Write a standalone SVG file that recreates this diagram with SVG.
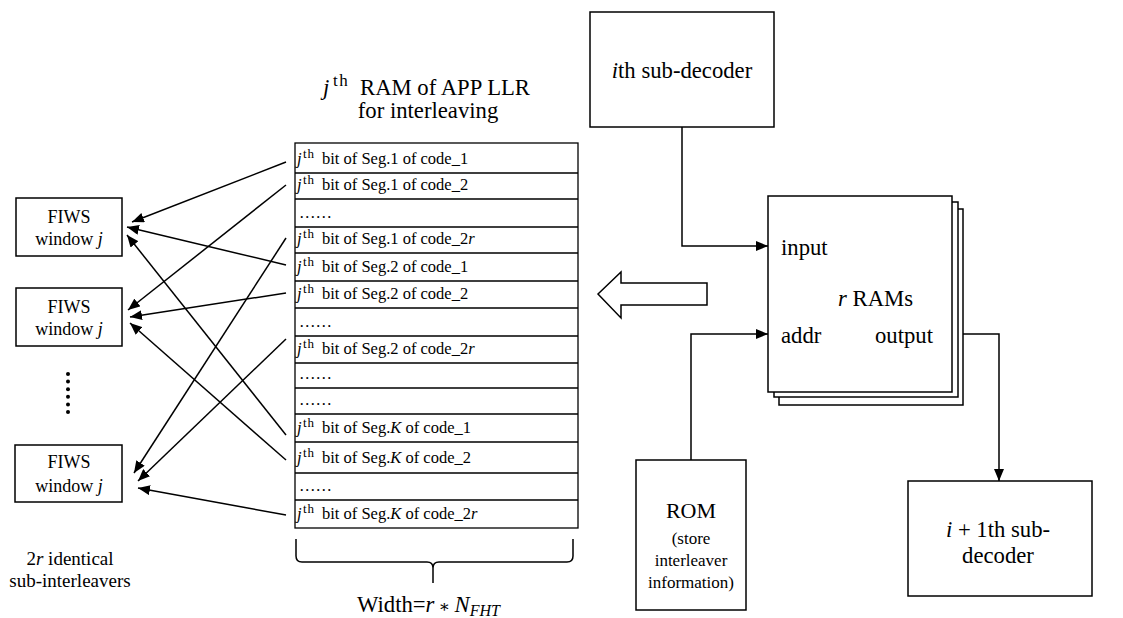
<svg xmlns="http://www.w3.org/2000/svg" width="1123" height="618" viewBox="0 0 1123 618" font-family="'Liberation Serif', 'Times New Roman', 'DejaVu Serif', serif">
<style>
text{font-family:'Liberation Serif','Times New Roman','DejaVu Serif',serif;fill:#000}
.big{font-size:22.7px}
.mid{font-size:18px}
.row{font-size:16.5px}
.sup{font-size:13px;letter-spacing:1px}
.sm{font-size:17px}
.i{font-style:italic}
.box{fill:#fff;stroke:#000;stroke-width:1.5}
.ln{fill:none;stroke:#000;stroke-width:1.5}
.cell{fill:none;stroke:#000;stroke-width:1.3}
</style>
<defs>
<marker id="ah" markerUnits="userSpaceOnUse" markerWidth="12" markerHeight="10" refX="12" refY="5" orient="auto">
<path d="M0,0 L12,5 L0,10 z" fill="#000"/>
</marker>
</defs>
<rect width="1123" height="618" fill="#fff"/>

<g id="title">
<text class="big" y="95"><tspan class="i" x="323">j</tspan><tspan x="333" font-size="17" letter-spacing="1.5" dy="-9">th</tspan><tspan x="360" dy="9">RAM of APP LLR</tspan></text>
<text class="big" x="428" y="118" text-anchor="middle">for interleaving</text>
</g>

<g id="fiws1">
<rect class="box" x="16" y="198" width="106" height="58"/>
<text class="mid" x="69" y="223" text-anchor="middle">FIWS</text>
<text class="mid" x="69" y="245" text-anchor="middle">window <tspan class="i">j</tspan></text>
</g>
<g id="fiws2">
<rect class="box" x="16" y="288" width="106" height="58"/>
<text class="mid" x="69" y="313" text-anchor="middle">FIWS</text>
<text class="mid" x="69" y="335" text-anchor="middle">window <tspan class="i">j</tspan></text>
</g>
<g id="dots">
<circle cx="68" cy="374" r="2"/>
<circle cx="68" cy="381.6" r="2"/>
<circle cx="68" cy="389.2" r="2"/>
<circle cx="68" cy="396.8" r="2"/>
<circle cx="68" cy="404.4" r="2"/>
<circle cx="68" cy="412" r="2"/>
</g>
<g id="fiws3">
<rect class="box" x="15" y="445" width="107" height="57"/>
<text class="mid" x="69" y="468" text-anchor="middle">FIWS</text>
<text class="mid" x="69" y="492" text-anchor="middle">window <tspan class="i">j</tspan></text>
</g>
<g id="caption-left">
<text x="70" y="565" font-size="19" text-anchor="middle">2<tspan class="i">r</tspan> identical</text>
<text x="70" y="587" font-size="19" text-anchor="middle">sub-interleavers</text>
</g>

<g id="ram-table">
<rect class="cell" x="295" y="143" width="283" height="385" stroke-width="1.8"/>
<path class="cell" d="M295,173H578M295,199H578M295,227H578M295,253H578M295,281H578M295,308H578M295,336H578M295,363H578M295,388H578M295,414H578M295,442H578M295,473H578M295,500H578"/>
<text class="row" y="164"><tspan class="i" x="297">j</tspan><tspan class="sup" x="303" dy="-6">th</tspan><tspan x="322" dy="6">bit of Seg.1 of code_1</tspan></text>
<text class="row" y="190"><tspan class="i" x="297">j</tspan><tspan class="sup" x="303" dy="-6">th</tspan><tspan x="322" dy="6">bit of Seg.1 of code_2</tspan></text>
<text class="row" x="299" y="218">……</text>
<text class="row" y="244"><tspan class="i" x="297">j</tspan><tspan class="sup" x="303" dy="-6">th</tspan><tspan x="322" dy="6">bit of Seg.1 of code_2</tspan><tspan class="i">r</tspan></text>
<text class="row" y="272"><tspan class="i" x="297">j</tspan><tspan class="sup" x="303" dy="-6">th</tspan><tspan x="322" dy="6">bit of Seg.2 of code_1</tspan></text>
<text class="row" y="299"><tspan class="i" x="297">j</tspan><tspan class="sup" x="303" dy="-6">th</tspan><tspan x="322" dy="6">bit of Seg.2 of code_2</tspan></text>
<text class="row" x="299" y="327">……</text>
<text class="row" y="354"><tspan class="i" x="297">j</tspan><tspan class="sup" x="303" dy="-6">th</tspan><tspan x="322" dy="6">bit of Seg.2 of code_2</tspan><tspan class="i">r</tspan></text>
<text class="row" x="299" y="379">……</text>
<text class="row" x="299" y="405">……</text>
<text class="row" y="433"><tspan class="i" x="297">j</tspan><tspan class="sup" x="303" dy="-6">th</tspan><tspan x="322" dy="6">bit of Seg.</tspan><tspan class="i">K</tspan><tspan> of code_1</tspan></text>
<text class="row" y="463"><tspan class="i" x="297">j</tspan><tspan class="sup" x="303" dy="-6">th</tspan><tspan x="322" dy="6">bit of Seg.</tspan><tspan class="i">K</tspan><tspan> of code_2</tspan></text>
<text class="row" x="299" y="491">……</text>
<text class="row" y="519"><tspan class="i" x="297">j</tspan><tspan class="sup" x="303" dy="-6">th</tspan><tspan x="322" dy="6">bit of Seg.</tspan><tspan class="i">K</tspan><tspan> of code_2</tspan><tspan class="i">r</tspan></text>
</g>

<g id="width-brace">
<path class="ln" stroke-width="1.2" d="M296,539V556Q296,562 302,562H427Q433,562 433,568V583M433,568Q433,562 439,562H567Q573,562 573,556V539"/>
<text class="big" x="357" y="612">Width=<tspan class="i">r</tspan><tspan font-size="17"> ∗ </tspan><tspan class="i">N</tspan><tspan class="i" font-size="16" dy="4">FHT</tspan></text>
</g>

<g id="sub-decoder-i">
<rect class="box" x="590" y="12" width="184" height="115"/>
<text class="big" x="682" y="78" text-anchor="middle"><tspan class="i">i</tspan>th sub-decoder</text>
</g>

<g id="ram-stack">
<rect class="box" x="779" y="209" width="184" height="196"/>
<rect class="box" x="774" y="202" width="184" height="195"/>
<rect class="box" x="768" y="196" width="184" height="196"/>
<text class="big" x="781" y="255">input</text>
<text class="big" x="838" y="306"><tspan class="i">r</tspan> RAMs</text>
<text class="big" x="781" y="343">addr</text>
<text class="big" x="875" y="343">output</text>
</g>

<g id="hollow-arrow">
<polygon points="598,294 621,272 621,283 707,283 707,305 621,305 621,318" fill="#fff" stroke="#000" stroke-width="1.5"/>
</g>

<g id="rom">
<rect class="box" x="636" y="460" width="110" height="150"/>
<text x="691" y="518" font-size="22" text-anchor="middle">ROM</text>
<text class="sm" x="691" y="544" text-anchor="middle">(store</text>
<text class="sm" x="691" y="566" text-anchor="middle">interleaver</text>
<text class="sm" x="691" y="588" text-anchor="middle">information)</text>
</g>

<g id="sub-decoder-i1">
<rect class="box" x="908" y="481" width="184" height="115"/>
<text class="big" x="998" y="537" text-anchor="middle"><tspan class="i">i</tspan> + 1th sub-</text>
<text class="big" x="998" y="563" text-anchor="middle">decoder</text>
</g>

<g id="connectors">
<path class="ln" d="M682,127V246H768" marker-end="url(#ah)"/>
<path class="ln" d="M691,460V334H768" marker-end="url(#ah)"/>
<path class="ln" d="M963,334H999V481" marker-end="url(#ah)"/>
<line class="ln" x1="286" y1="162" x2="132" y2="222" marker-end="url(#ah)"/>
<line class="ln" x1="286" y1="185" x2="128" y2="310" marker-end="url(#ah)"/>
<line class="ln" x1="286" y1="238" x2="134" y2="473" marker-end="url(#ah)"/>
<line class="ln" x1="286" y1="265" x2="127" y2="227" marker-end="url(#ah)"/>
<line class="ln" x1="286" y1="293" x2="130" y2="317" marker-end="url(#ah)"/>
<line class="ln" x1="286" y1="339" x2="138" y2="481" marker-end="url(#ah)"/>
<line class="ln" x1="286" y1="435" x2="127" y2="235" marker-end="url(#ah)"/>
<line class="ln" x1="286" y1="460" x2="130" y2="323" marker-end="url(#ah)"/>
<line class="ln" x1="286" y1="515" x2="138" y2="488" marker-end="url(#ah)"/>
</g>
</svg>
